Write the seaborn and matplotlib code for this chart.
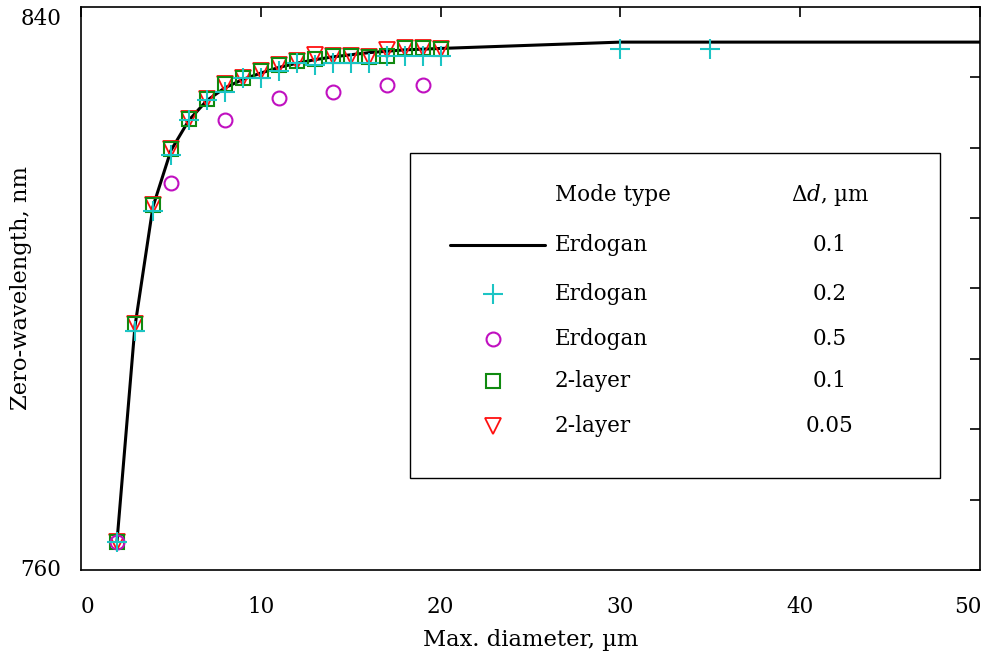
import numpy as np
import pandas as pd
import matplotlib
matplotlib.use("Agg")
import matplotlib.pyplot as plt
import matplotlib.transforms as mtransforms
import seaborn as sns
from matplotlib.patches import Rectangle
from matplotlib.ticker import FixedFormatter, FixedLocator

# ---- data ----
line_x = [2, 3, 4, 5, 6, 7, 8, 9, 10, 11, 12, 13, 14, 15, 16, 17, 18, 19, 20, 30, 40, 50]
line_y = [764.0, 794.6, 811.6, 819.6, 823.9, 826.7, 828.5, 829.7, 830.6, 831.4, 832.0,
          832.5, 832.9, 833.2, 833.5, 833.7, 833.9, 834.0, 834.1, 835.0, 835.0, 835.0]

plus_x = [2, 3, 4, 5, 6, 7, 8, 9, 10, 11, 12, 13, 14, 15, 16, 17, 18, 19, 20, 30, 35]
plus_y = [764.0, 794.0, 811.0, 819.0, 823.9, 826.8, 827.9, 829.9, 829.9, 830.9, 832.0,
          831.7, 832.0, 832.0, 832.0, 833.0, 833.0, 833.0, 833.0, 834.0, 834.0]

circ_x = [2, 5, 8, 11, 14, 17, 19]
circ_y = [764.0, 815.0, 823.9, 827.0, 827.9, 828.9, 828.9]

sq_x = [2, 3, 4, 5, 6, 7, 8, 9, 10, 11, 12, 13, 14, 15, 16, 17, 18, 19, 20]
sq_y = [764.0, 794.9, 811.8, 819.8, 824.1, 826.9, 829.0, 829.9, 830.9, 831.7, 832.3,
        832.6, 833.0, 833.0, 832.9, 833.0, 834.1, 834.1, 834.0]

tri_x = [2, 3, 4, 5, 6, 7, 8, 9, 10, 11, 12, 13, 14, 15, 16, 17, 18, 19, 20]
tri_y = [764.0, 794.9, 811.8, 819.8, 824.1, 826.9, 829.0, 829.9, 830.9, 831.7, 832.3,
         833.2, 833.0, 833.0, 832.9, 833.9, 834.1, 834.1, 834.0]

mode_types = ["Erdogan", "Erdogan", "Erdogan", "2-layer", "2-layer"]
delta_d = ["0.1", "0.2", "0.5", "0.1", "0.05"]

x_ticks = [0, 10, 20, 30, 40, 50]
y_ticks = [760, 770, 780, 790, 800, 810, 820, 830, 840]
y_tick_labels = ["760", "", "", "", "", "", "", "", "840"]

# ---- style ----
sns.set_style("white")
plt.rcParams["font.family"] = ["DejaVu Serif"]
plt.rcParams["mathtext.fontset"] = "dejavuserif"
plt.rcParams["text.color"] = "black"
plt.rcParams["axes.labelcolor"] = "black"
plt.rcParams["xtick.color"] = "black"
plt.rcParams["ytick.color"] = "black"
FS = 15.5

BLACK = "#000000"
CYAN = "#1cc4c4"
MAGENTA = "#c010c0"
GREEN = "#108a10"
RED = "#ff1010"

fig = plt.figure(figsize=(9.89, 6.59), dpi=100)
ax = fig.add_axes([0.0819, 0.135, 0.909, 0.8545])

sns.lineplot(x=line_x, y=line_y, ax=ax, color=BLACK, lw=2.2, estimator=None, sort=False, zorder=2)
sns.lineplot(x=tri_x, y=tri_y, ax=ax, estimator=None, sort=False, ls="", marker="v",
             mfc="none", mec=RED, ms=11, mew=1.3, zorder=3)
sns.lineplot(x=sq_x, y=sq_y, ax=ax, estimator=None, sort=False, ls="", marker="s",
             mfc="none", mec=GREEN, ms=10, mew=1.5, zorder=4)
sns.lineplot(x=circ_x, y=circ_y, ax=ax, estimator=None, sort=False, ls="", marker="o",
             mfc="none", mec=MAGENTA, ms=10, mew=1.5, zorder=5)
sns.lineplot(x=plus_x, y=plus_y, ax=ax, estimator=None, sort=False, ls="", marker="+",
             mec=CYAN, ms=14, mew=1.5, zorder=6)

ax.set_xlim(0, 50)
ax.set_ylim(760, 840)
ax.xaxis.set_major_locator(FixedLocator(x_ticks))
ax.yaxis.set_major_locator(FixedLocator(y_ticks))
ax.yaxis.set_major_formatter(FixedFormatter(y_tick_labels))
ax.tick_params(direction="in", length=7, width=1.2, top=True, right=True,
               labelsize=FS, colors=BLACK)
ax.tick_params(axis="x", pad=19)
ax.tick_params(axis="y", pad=14)
for s in ax.spines.values():
    s.set_color(BLACK)
    s.set_linewidth(1.2)

# nudge the end labels inwards as in the reference
ytl = ax.yaxis.get_major_ticks()
ytl[-1].label1.set_transform(ytl[-1].label1.get_transform() +
                             mtransforms.ScaledTranslation(0, -10 / 100, fig.dpi_scale_trans))
ytl[0].label1.set_transform(ytl[0].label1.get_transform() +
                            mtransforms.ScaledTranslation(0, 3 / 100, fig.dpi_scale_trans))
xtl = ax.xaxis.get_major_ticks()
xtl[-1].label1.set_transform(xtl[-1].label1.get_transform() +
                             mtransforms.ScaledTranslation(-12 / 100, 0, fig.dpi_scale_trans))
xtl[0].label1.set_transform(xtl[0].label1.get_transform() +
                            mtransforms.ScaledTranslation(6 / 100, 0, fig.dpi_scale_trans))

ax.set_xlabel("Max. diameter, µm", fontsize=16.3)
ax.set_ylabel("Zero-wavelength, nm", fontsize=16.3)
ax.xaxis.set_label_coords(0.5, -0.105)
ax.yaxis.set_label_coords(-0.054, 0.5)

# ---- table-like legend ----
box = Rectangle((0.366, 0.1634), 0.5895, 0.5773, transform=ax.transAxes,
                facecolor="white", edgecolor=BLACK, lw=1.0, zorder=10)
ax.add_patch(box)
tx_mode = 0.527
tx_dd = 0.833
mk_x = 0.458
ax.text(tx_mode, 0.666, "Mode type", transform=ax.transAxes, fontsize=FS,
        va="center", ha="left", zorder=11)
ax.text(tx_dd, 0.666, r"$\Delta d$, µm", transform=ax.transAxes, fontsize=FS,
        va="center", ha="center", zorder=11)
rows = [0.577, 0.490, 0.410, 0.336, 0.256]
styles = [
    dict(color=BLACK, lw=2.2),
    dict(ls="", marker="+", mec=CYAN, ms=14, mew=1.5),
    dict(ls="", marker="o", mfc="none", mec=MAGENTA, ms=10, mew=1.5),
    dict(ls="", marker="s", mfc="none", mec=GREEN, ms=10, mew=1.5),
    dict(ls="", marker="v", mfc="none", mec=RED, ms=11, mew=1.3),
]
for i, (yy, mt, dd, st) in enumerate(zip(rows, mode_types, delta_d, styles)):
    if i == 0:
        ax.plot([0.41, 0.516], [yy, yy], transform=ax.transAxes, zorder=11, **st)
    else:
        ax.plot([mk_x], [yy], transform=ax.transAxes, zorder=11, **st)
    ax.text(tx_mode, yy, mt, transform=ax.transAxes, fontsize=FS,
            va="center", ha="left", zorder=11)
    ax.text(tx_dd, yy, dd, transform=ax.transAxes, fontsize=FS,
            va="center", ha="center", zorder=11)

fig.savefig("out.png", dpi=100)
